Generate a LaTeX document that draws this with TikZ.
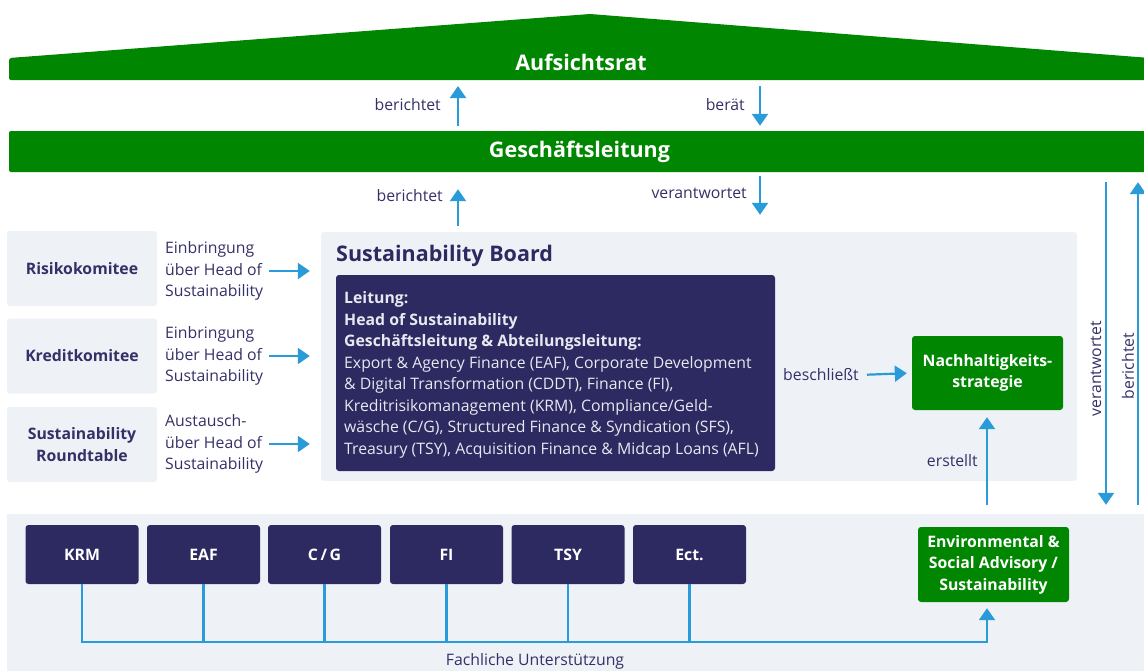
\documentclass[tikz,border=0pt]{standalone}
\usepackage{fontspec}
\setmainfont{Open Sans}
\usetikzlibrary{arrows.meta}

\definecolor{sgreen}{RGB}{0,134,0}
\definecolor{navybox}{RGB}{45,41,97}
\definecolor{palebg}{RGB}{238,242,247}
\definecolor{arrowblue}{RGB}{41,155,216}
\definecolor{txtnavy}{RGB}{52,48,104}
\definecolor{boxtxt}{RGB}{232,232,240}

\newcommand{\txtbody}{\fontsize{15.8}{21.5}\selectfont}
\newcommand{\txttitle}{\fontsize{21.5}{24}\selectfont\bfseries}

\begin{document}
\begin{tikzpicture}[x=1pt,y=1pt,yscale=-1,
  arr/.style={draw=arrowblue, line width=2.2, -{Triangle[width=16,length=12]}},
  bus/.style={draw=arrowblue, line width=2.2},
  greenbar/.style={fill=sgreen, rounded corners=2, text=white, font=\txttitle},
  sidebox/.style={fill=palebg, rounded corners=3, minimum width=150, minimum height=75, text=txtnavy, font=\txtbody\bfseries, align=center},
  deptbox/.style={fill=navybox, rounded corners=3, minimum width=113, minimum height=59, text=white, font=\txtbody\bfseries},
  greenbox/.style={fill=sgreen, rounded corners=3, minimum width=151, minimum height=75, text=white, font=\txtbody\bfseries, align=center},
  ltext/.style={inner sep=0, text=txtnavy, font=\txtbody, align=left}]
\useasboundingbox (0,0) rectangle (1144,670);

%Shape: Roof
\fill[sgreen, rounded corners=2] (9,80) -- (9,58) -- (590,14) -- (1150,58) -- (1150,80) -- cycle;
\coordinate (arbase) at (580,80);
% Text Node
\node[text=white, font=\txttitle] (ar) at (581,62) {Aufsichtsrat};
%Shape: Rectangle
\node[greenbar, minimum width=1141, minimum height=41] (gl) at (579.5,151.5) {\raisebox{-2pt}{Geschäftsleitung}};

%Straight Lines
\draw[arr, shorten <=5, shorten >=6] (gl.north -| 458,0) -- (arbase -| 458,0);
\draw[arr, shorten <=6, shorten >=5] (arbase -| 760,0) -- (gl.north -| 760,0);
% Text Node
\node[ltext, anchor=east] (lb1) at (441,105) {berichtet};
\node[ltext, anchor=east] (lb2) at (745,105) {berät};

%Shape: Panels
\node[fill=palebg, rounded corners=3, minimum width=756, minimum height=249] (sb) at (699,356.5) {};
\node[fill=palebg, minimum width=1143, minimum height=161] (base) at (578.5,594.5) {};

%Straight Lines
\draw[arr, shorten <=6, shorten >=17] (sb.north -| 458,0) -- (gl.south -| 458,0);
\draw[arr, shorten <=4, shorten >=17] (gl.south -| 760,0) -- (sb.north -| 760,0);
% Text Node
\node[ltext, anchor=east] (lb3) at (443,196) {berichtet};
\node[ltext, anchor=east] (lb4) at (747,193) {verantwortet};

%Shape: Left boxes
\node[sidebox] (risk) at (82,268.5) {Risikokomitee};
\node[sidebox] (kredit) at (82,356) {Kreditkomitee};
\node[sidebox] (round) at (82,444.5) {Sustainability\\Roundtable};
% Text Node
\node[ltext, anchor=west] (ein1) at (165,271) {Einbringung\\über Head of\\Sustainability};
\node[ltext, anchor=west] (ein2) at (165,356) {Einbringung\\über Head of\\Sustainability};
\node[ltext, anchor=west] (ein3) at (165,444) {Austausch-\\über Head of\\Sustainability};
%Straight Lines
\foreach \t in {ein1,ein2,ein3}
  \draw[arr, shorten <=6, shorten >=11] (\t.east) -- (\t.east -| sb.west);

% Text Node
\node[inner sep=0, anchor=west, text=navybox, font=\txttitle] (sbtitle) at (336,256) {Sustainability Board};
%Shape: Rectangle
\node[fill=navybox, rounded corners=3, minimum width=439, minimum height=196] (sbd) at (555.5,373) {};
\node[ltext, anchor=west, text=boxtxt] (sbtext) at (344,375) {\textbf{Leitung:}\\
\textbf{Head of Sustainability}\\
\textbf{Geschäftsleitung \& Abteilungsleitung:}\\
Export \& Agency Finance (EAF), Corporate Development\\
\& Digital Transformation (CDDT), Finance (FI),\\
Kreditrisikomanagement (KRM), Compliance/Geld-\\
wäsche (C/G), Structured Finance \& Syndication (SFS),\\
Treasury (TSY), Acquisition Finance \& Midcap Loans (AFL)};

%Shape: Strategy
\node[greenbox, minimum height=74] (nhs) at (987.5,373) {Nachhaltigkeits-\\strategie};
\node[ltext, anchor=east] (beschl) at (859,375) {beschließt};
\draw[arr, shorten <=8, shorten >=5] (beschl.east) -- (nhs.west);

%Straight Lines right
\draw[arr, shorten <=10, shorten >=9] (gl.south -| 1106,0) -- (base.north -| 1106,0);
\draw[arr, shorten <=9, shorten >=10] (base.north -| 1138,0) -- (gl.south -| 1138,0);
\node[ltext, rotate=90] (lb5) at (1096,369) {verantwortet};
\node[ltext, rotate=90] (lb6) at (1128,366) {berichtet};

%Shape: Departments
\node[deptbox] (krm) at (82,554.5) {KRM};
\node[deptbox] (eaf) at (203.5,554.5) {EAF};
\node[deptbox] (cg) at (324.5,554.5) {C\,/\,G};
\node[deptbox] (fi) at (446.5,554.5) {FI};
\node[deptbox] (tsy) at (568,554.5) {TSY};
\node[deptbox] (ect) at (689.5,554.5) {Ect.};
\node[greenbox] (env) at (993.5,564.5) {Environmental \&\\Social Advisory /\\Sustainability};

%Straight Lines bottom
\coordinate (busend) at (987,642);
\draw[arr, shorten >=6] (krm.south) -- (krm.south |- busend) -- (busend) -- (env.south -| busend);
\foreach \d in {eaf,cg,fi,tsy,ect}
  \draw[bus] (\d.south) -- (\d.south |- busend);
\draw[arr, shorten <=22, shorten >=7] (env.north -| busend) -- (nhs.south -| busend);
\node[ltext, anchor=east] (lb7) at (978,461) {erstellt};
% Text Node
\node[ltext] (fach) at (535,661) {Fachliche Unterstützung};
\end{tikzpicture}
\end{document}
